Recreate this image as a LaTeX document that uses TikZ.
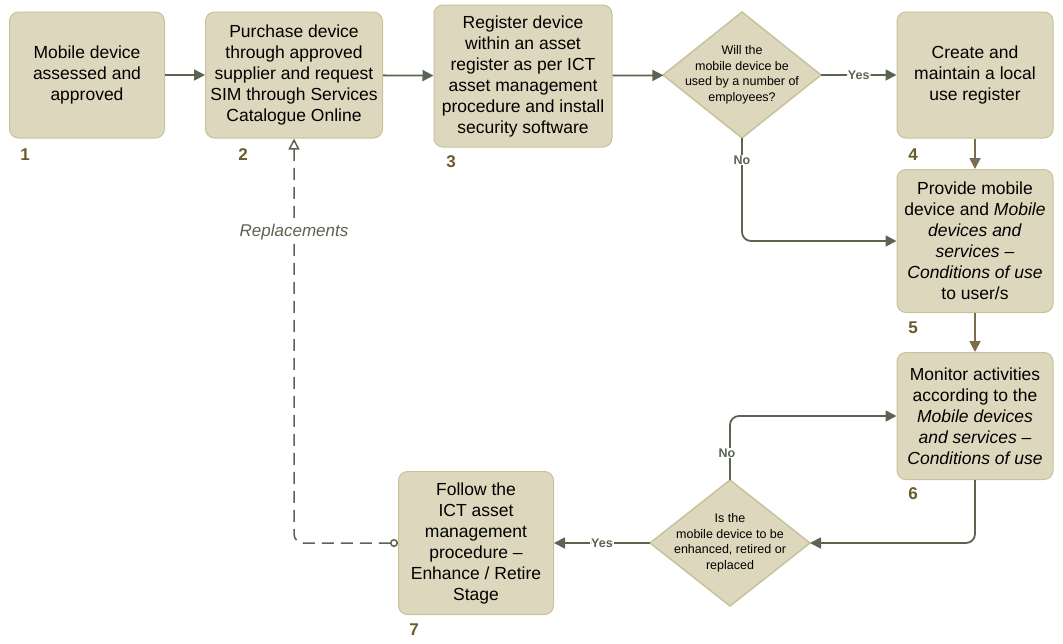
\documentclass[tikz,border=0pt]{standalone}
\usepackage{fontspec}
\setmainfont{Liberation Sans}
\usetikzlibrary{arrows.meta,positioning,shapes.geometric}
\definecolor{boxfill}{HTML}{DDD8BD}
\definecolor{boxline}{HTML}{C8C29A}
\definecolor{flow}{HTML}{5A6450}
\definecolor{down}{HTML}{7D6B4C}
\definecolor{numc}{HTML}{6B5A2A}
\tikzset{
  stage/.style={draw=boxline,fill=boxfill,rounded corners=9pt,align=center,
    font=\fontsize{17.5}{21}\selectfont,inner sep=1pt,line width=1pt},
  ask/.style={diamond,draw=boxline,fill=boxfill,outer sep=0pt,inner sep=0pt,
    minimum width=158pt,minimum height=126pt,line width=1.5pt},
  asktext/.style={align=center,font=\fontsize{12.5}{15.5}\selectfont},
  num/.style={text=numc,font=\fontsize{17}{17}\selectfont\bfseries},
  link/.style={draw=flow,line width=1.8pt,-{Triangle[length=11pt,width=11pt]},rounded corners=9pt},
  dlink/.style={draw=down,line width=1.8pt,-{Triangle[length=11pt,width=11pt]}},
  tag/.style={fill=white,text=flow,font=\fontsize{12.5}{12.5}\selectfont\bfseries,inner sep=1pt}
}
\begin{document}
\begin{tikzpicture}[x=1pt,y=-1pt]
  \useasboundingbox (0,0) rectangle (1063,643);
  \node (s1) [stage,minimum width=155pt,minimum height=126pt] at (87,75) {Mobile device\\assessed and\\approved};
  \node (s2) [stage,minimum width=177pt,minimum height=126pt] at (294,75) {Purchase device\\through approved\\supplier and request\\SIM through Services\\Catalogue Online};
  \node (s3) [stage,minimum width=178pt,minimum height=142pt] at (523,76) {Register device\\within an asset\\register as per ICT\\asset management\\procedure and install\\security software};
  \node (q1) [ask,label={[asktext]center:Will the\\mobile device be\\used by a number of\\employees?}] at (742,75) {};
  \node (s4) [stage,minimum width=156pt,minimum height=126pt] at (975,75) {Create and\\maintain a local\\use register};
  \node (s5) [stage,minimum width=156pt,minimum height=143pt] at (975,241) {Provide mobile\\device and \textit{Mobile}\\\textit{devices and}\\\textit{services --}\\\textit{Conditions of use}\\to user/s};
  \node (s6) [stage,minimum width=156pt,minimum height=127pt] at (975,416) {Monitor activities\\according to the\\\textit{Mobile devices}\\\textit{and services --}\\\textit{Conditions of use}};
  \node (q2) [ask,minimum width=160pt,label={[asktext]center:Is the\\mobile device to be\\enhanced, retired or\\replaced}] at (730,543) {};
  \node (s7) [stage,minimum width=155pt,minimum height=143pt] at (476,543) {Follow the\\ICT asset\\management\\procedure --\\Enhance / Retire\\Stage};
  \node [num] at (25,155) {1};
  \node [num] at (243,155) {2};
  \node [num] at (451,162) {3};
  \node [num] at (913,155) {4};
  \node [num] at (913,328) {5};
  \node [num] at (913,494) {6};
  \node [num] at (414,630) {7};
  % flow
  \draw[link] (s1) -- (s2);
  \draw[link] (s2) -- (s3);
  \draw[link] (s3) -- (q1);
  \draw[link] (q1) -- node[tag] {Yes} (s4);
  \draw[link] (q1.south) -- (742,241) -- (s5.west);
  \node[tag] at (742,160) {No};
  \draw[dlink] (s4) -- (s5);
  \draw[dlink] (s5) -- (s6);
  \draw[link] (s6.south) -- (975,543) -- (q2.east);
  \draw[link] (q2.north) -- (730,416) -- (s6.west);
  \node[tag] at (727,453) {No};
  \draw[link] (q2) -- node[tag] {Yes} (s7);
  \draw[draw=flow,line width=1.5pt,dash pattern=on 12pt off 7pt,rounded corners=9pt,
    {Circle[open,length=8pt,width=8pt]}-{Triangle[open,length=11pt,width=11pt]}]
    (s7.west) -- (294,543) -- (s2.south);
  \node[fill=white,text=flow,font=\fontsize{17}{17}\selectfont\itshape] at (294,232) {Replacements};
\end{tikzpicture}
\end{document}
